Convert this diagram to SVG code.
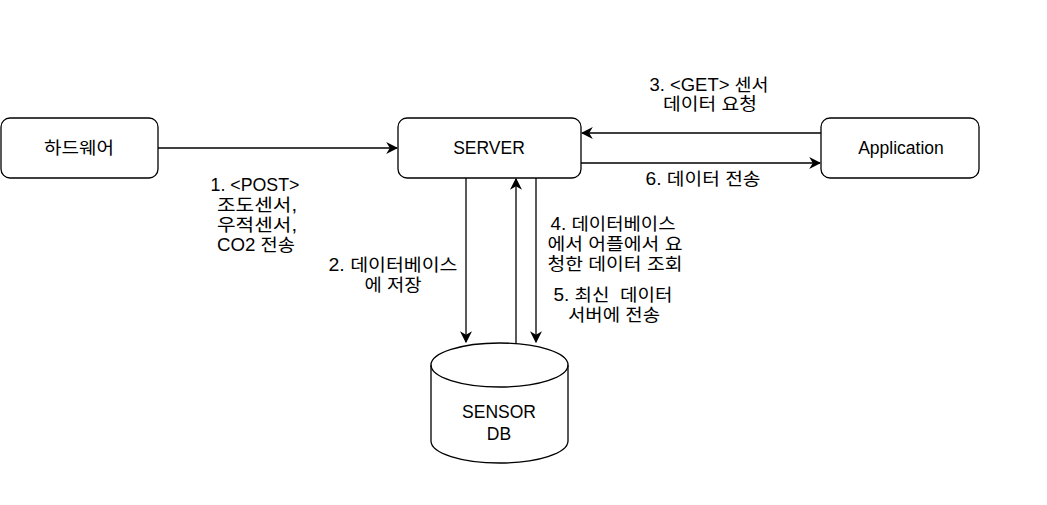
<svg xmlns="http://www.w3.org/2000/svg" width="1047" height="505" viewBox="0 0 1047 505">
<defs>
<style>
.box{fill:#fff;stroke:#000;stroke-width:1.3}
.t{font-family:"Liberation Sans","Noto Sans CJK KR",sans-serif;font-size:17.5px;fill:#000;text-anchor:middle;white-space:pre}
.e{fill:none;stroke:#000;stroke-width:1.3}
</style>
<marker id="a" viewBox="0 0 10 10" refX="9" refY="5" markerWidth="12" markerHeight="12" markerUnits="userSpaceOnUse" orient="auto">
<path d="M0,0 L10,5 L0,10 L3,5 Z" fill="#000"/>
</marker>
</defs>
<rect width="1047" height="505" fill="#fff"/>
<g id="connectors">
<line class="e" x1="158" y1="148" x2="397" y2="148" marker-end="url(#a)"/>
<line class="e" x1="821" y1="133" x2="582" y2="133" marker-end="url(#a)"/>
<line class="e" x1="581" y1="163" x2="820" y2="163" marker-end="url(#a)"/>
<line class="e" x1="466" y1="178" x2="466" y2="342" marker-end="url(#a)"/>
<line class="e" x1="516" y1="344" x2="516" y2="179" marker-end="url(#a)"/>
<line class="e" x1="536" y1="178" x2="536" y2="342" marker-end="url(#a)"/>
<text class="t" x="255" y="191" textLength="89" lengthAdjust="spacingAndGlyphs">1. &lt;POST&gt;</text>
<text class="t" x="257" y="211" textLength="80" lengthAdjust="spacingAndGlyphs">조도센서,</text>
<text class="t" x="257" y="231" textLength="80" lengthAdjust="spacingAndGlyphs">우적센서,</text>
<text class="t" x="256" y="251" textLength="78" lengthAdjust="spacingAndGlyphs">CO2 전송</text>
<text class="t" x="393" y="271" textLength="129" lengthAdjust="spacingAndGlyphs">2. 데이터베이스</text>
<text class="t" x="393" y="291" textLength="57" lengthAdjust="spacingAndGlyphs">에 저장</text>
<text class="t" x="709" y="91" textLength="119" lengthAdjust="spacingAndGlyphs">3. &lt;GET&gt; 센서</text>
<text class="t" x="710" y="110" textLength="94" lengthAdjust="spacingAndGlyphs">데이터 요청</text>
<text class="t" x="703" y="185" textLength="115" lengthAdjust="spacingAndGlyphs">6. 데이터 전송</text>
<text class="t" x="613" y="230" textLength="125" lengthAdjust="spacingAndGlyphs">4. 데이터베이스</text>
<text class="t" x="615" y="250" textLength="135" lengthAdjust="spacingAndGlyphs">에서 어플에서 요</text>
<text class="t" x="615" y="270" textLength="135" lengthAdjust="spacingAndGlyphs">청한 데이터 조회</text>
<text class="t" x="613" y="301" textLength="119" lengthAdjust="spacingAndGlyphs">5. 최신  데이터</text>
<text class="t" x="614" y="321" textLength="92" lengthAdjust="spacingAndGlyphs">서버에 전송</text>
</g>
<g id="hardware">
<rect class="box" x="1" y="118" width="157" height="60" rx="9"/>
<text class="t" x="79" y="154" textLength="70" lengthAdjust="spacingAndGlyphs">하드웨어</text>
</g>
<g id="server">
<rect class="box" x="398" y="118" width="183" height="60" rx="9"/>
<text class="t" x="489" y="154">SERVER</text>
</g>
<g id="application">
<rect class="box" x="821" y="118" width="158" height="60" rx="9"/>
<text class="t" x="901" y="154">Application</text>
</g>
<g id="db">
<path class="box" d="M431,365 A68.5,22 0 0 1 568,365 L568,441 A68.5,22 0 0 1 431,441 Z"/>
<path class="e" d="M431,365 A68.5,22 0 0 0 568,365"/>
<text class="t" x="499" y="418">SENSOR</text>
<text class="t" x="499" y="440">DB</text>
</g>
</svg>
